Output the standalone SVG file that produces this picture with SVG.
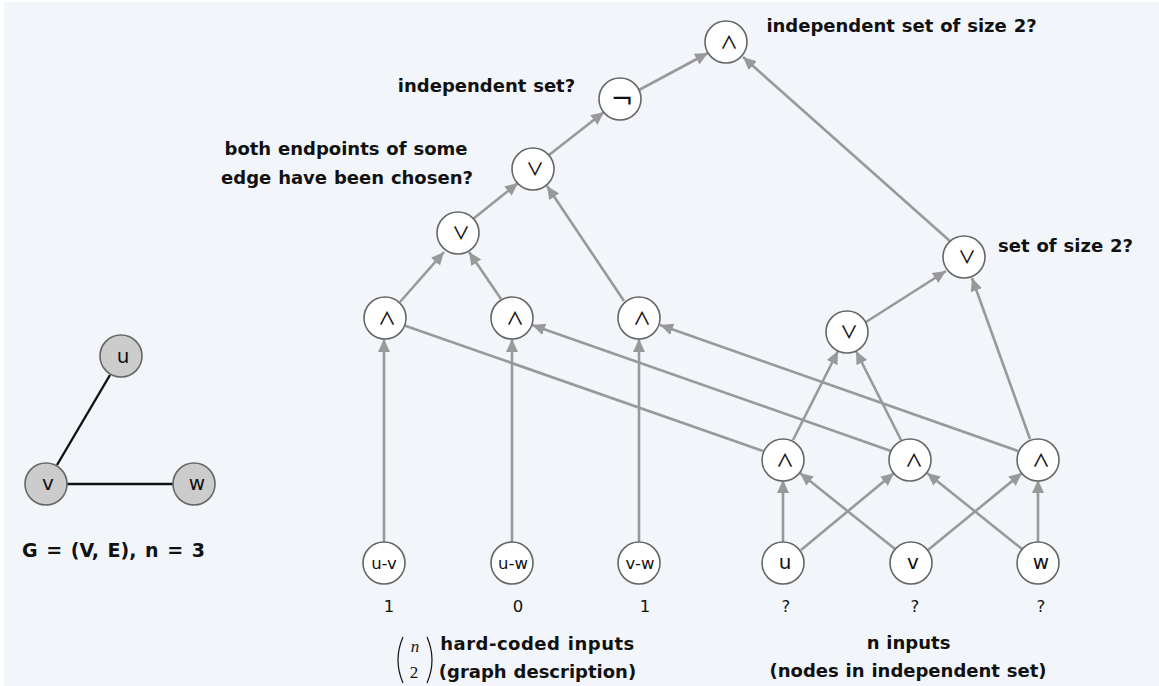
<svg xmlns="http://www.w3.org/2000/svg" width="1159" height="686" viewBox="0 0 1159 686">
<style>
.n{fill:#fff;stroke:#666;stroke-width:1.6}
.g{fill:#ccc;stroke:#666;stroke-width:1.6}
.t{font-family:"DejaVu Sans",sans-serif;font-size:20px;fill:#111;text-anchor:middle}
.s{font-size:16.5px}
.d{font-size:16.5px}
.y{font-family:"Noto Sans CJK JP",sans-serif;font-size:18px;font-weight:500}
.z{font-size:27px}
.b{font-family:"DejaVu Sans",sans-serif;font-size:18px;font-weight:bold;fill:#111;text-anchor:middle;word-spacing:.6px}
.m{font-family:"Liberation Serif",serif;font-size:17px;fill:#111;text-anchor:middle}
.c line{stroke:#999;stroke-width:2.6;marker-end:url(#a)}
.c line.x{marker-end:none}
.e line{stroke:#111;stroke-width:2.4}
.p{fill:none;stroke:#111;stroke-width:1.2}
</style>
<defs><marker id="a" markerUnits="userSpaceOnUse" markerWidth="14" markerHeight="13" refX="13" refY="6.5" orient="auto"><path d="M0 0.5L13 6.5L0 12.5z" fill="#999"/></marker></defs>
<rect width="1159" height="686" fill="#fff"/>
<rect x="4" y="2" width="1155" height="684" fill="#f2f5f9"/>
<g class="e" id="graph-edges"><line x1="110" y1="375" x2="57" y2="465"/><line x1="67" y1="484" x2="173" y2="484"/></g>
<g class="c" id="connectors">
<line x1="639" y1="90" x2="708" y2="53"/>
<line x1="951" y1="242" x2="743" y2="57"/>
<line x1="549" y1="155" x2="604" y2="112"/>
<line x1="473" y1="219" x2="518" y2="183"/>
<line x1="624" y1="301" x2="547" y2="186"/>
<line x1="400" y1="302" x2="444" y2="252"/>
<line x1="501" y1="299" x2="469" y2="252"/>
<line x1="384" y1="542" x2="384" y2="339"/>
<line x1="512" y1="542" x2="512" y2="339"/>
<line x1="639" y1="542" x2="639" y2="339"/>
<line x1="866" y1="322" x2="946" y2="271"/>
<line x1="1030" y1="439" x2="972" y2="278"/>
<line x1="793" y1="440" x2="838" y2="351"/>
<line x1="901" y1="440" x2="856" y2="351"/>
<line class="x" x1="763" y1="451" x2="403" y2="325"/>
<line x1="891" y1="451" x2="532" y2="325"/>
<line x1="1018" y1="451" x2="660" y2="325"/>
<line x1="783" y1="542" x2="783" y2="480"/>
<line x1="801" y1="550" x2="894" y2="473"/>
<line x1="895" y1="549" x2="800" y2="473"/>
<line x1="928" y1="550" x2="1022" y2="473"/>
<line x1="1022" y1="549" x2="927" y2="473"/>
<line x1="1038" y1="542" x2="1038" y2="480"/>
</g>
<g id="g-u"><circle class="g" cx="121" cy="356" r="21"/><text class="t" x="123" y="363">u</text></g>
<g id="g-v"><circle class="g" cx="46" cy="484" r="21"/><text class="t" x="48" y="490">v</text></g>
<g id="g-w"><circle class="g" cx="194" cy="484" r="21"/><text class="t" x="197" y="490">w</text></g>
<g id="n1"><circle class="n" cx="726" cy="42" r="21"/><text class="t y" x="729" y="49">∧</text></g>
<g id="n2"><circle class="n" cx="620" cy="99" r="21"/><text class="t z" x="622" y="108">¬</text></g>
<g id="n3"><circle class="n" cx="533" cy="169" r="21"/><text class="t y" x="535" y="176">∨</text></g>
<g id="n4"><circle class="n" cx="458" cy="233" r="21"/><text class="t y" x="461" y="240">∨</text></g>
<g id="n5"><circle class="n" cx="385" cy="318" r="21"/><text class="t y" x="387" y="325">∧</text></g>
<g id="n6"><circle class="n" cx="512" cy="318" r="21"/><text class="t y" x="515" y="325">∧</text></g>
<g id="n7"><circle class="n" cx="639" cy="318" r="21"/><text class="t y" x="642" y="325">∧</text></g>
<g id="n8"><circle class="n" cx="847" cy="332" r="21"/><text class="t y" x="849" y="339">∨</text></g>
<g id="n9"><circle class="n" cx="964" cy="257" r="21"/><text class="t y" x="967" y="264">∨</text></g>
<g id="n10"><circle class="n" cx="783" cy="460" r="21"/><text class="t y" x="785" y="467">∧</text></g>
<g id="n11"><circle class="n" cx="910" cy="460" r="21"/><text class="t y" x="914" y="467">∧</text></g>
<g id="n12"><circle class="n" cx="1038" cy="460" r="21"/><text class="t y" x="1041" y="467">∧</text></g>
<g id="i1"><circle class="n" cx="384" cy="563" r="21"/><text class="t s" x="384" y="569">u-v</text></g>
<g id="i2"><circle class="n" cx="512" cy="563" r="21"/><text class="t s" x="513" y="569">u-w</text></g>
<g id="i3"><circle class="n" cx="639" cy="563" r="21"/><text class="t s" x="640" y="569">v-w</text></g>
<g id="i4"><circle class="n" cx="783" cy="563" r="21"/><text class="t" x="785" y="569">u</text></g>
<g id="i5"><circle class="n" cx="911" cy="563" r="21"/><text class="t" x="913" y="569">v</text></g>
<g id="i6"><circle class="n" cx="1038" cy="563" r="21"/><text class="t" x="1041" y="569">w</text></g>
<g id="labels">
<text class="t d" x="389" y="612">1</text><text class="t d" x="518" y="612">0</text><text class="t d" x="645" y="612">1</text>
<text class="t d" x="786" y="612">?</text><text class="t d" x="915" y="612">?</text><text class="t d" x="1041" y="612">?</text>
<text class="b" x="901.5" y="32">independent set of size 2?</text>
<text class="b" x="486.5" y="92">independent set?</text>
<text class="b" x="346" y="155">both endpoints of some</text>
<text class="b" x="347" y="184">edge have been chosen?</text>
<text class="b" x="1065.5" y="252">set of size 2?</text>
<text class="b" x="113.5" y="557" style="font-size:19px;word-spacing:2px">G = (V, E), n = 3</text>
<text class="b" x="537.5" y="650" style="letter-spacing:.5px">hard-coded inputs</text>
<text class="b" x="537.5" y="678">(graph description)</text>
<text class="b" x="908.5" y="649">n inputs</text>
<text class="b" x="908" y="677">(nodes in independent set)</text>
<text class="m" x="415" y="652" font-style="italic">n</text>
<text class="m" x="414" y="678">2</text>
<path class="p" d="M403 637Q393 660 403 683"/>
<path class="p" d="M427 637Q437 660 427 683"/>
</g>
</svg>
